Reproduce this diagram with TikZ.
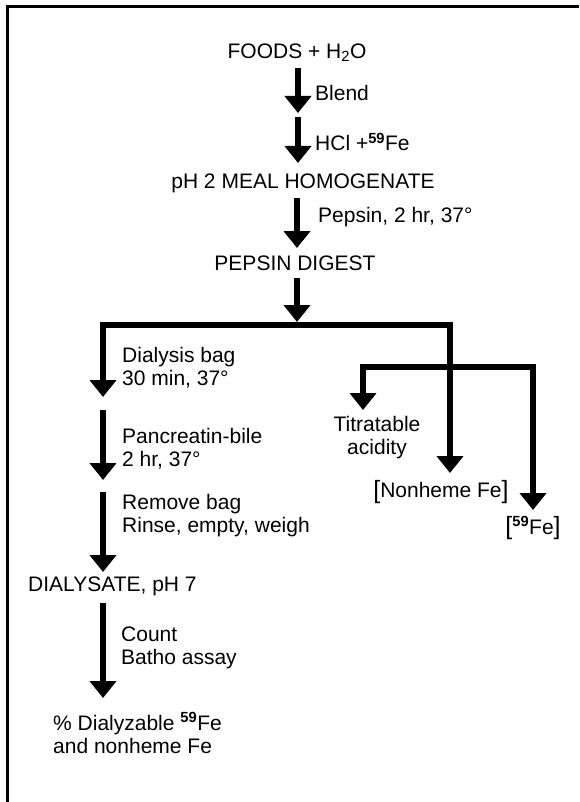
\documentclass[tikz,border=0pt]{standalone}
\usepackage{fontspec}
\setmainfont{Liberation Sans}
\usetikzlibrary{arrows.meta}
\newcommand{\tallbr}[1]{{\fontsize{25}{25}\selectfont\raisebox{-0.6pt}{#1}}}
\begin{document}
\begin{tikzpicture}[x=1pt,y=-1pt,
  txt/.style={inner sep=0pt, font=\fontsize{21}{23}\selectfont},
  lbl/.style={txt, anchor=west, align=left},
  flow/.style={line width=5.5pt, line join=miter, -{Triangle[width=26pt,length=17pt]}},
  frame/.style={line width=3pt}]
\useasboundingbox (0,0) rectangle (579,802);
% frame (only top and left edges visible)
\coordinate (fTR) at (579,7);
\coordinate (fTL) at (7,7);
\coordinate (fBL) at (7,802);
\draw[frame] (fTR) -- (fTL) -- (fBL);

% main column
\node[txt] (foods) at (297,53) {FOODS + H\textsubscript{2}O};
\coordinate (a1s) at (298,68);  \coordinate (a1e) at (298,113);
\node[lbl] (blend) at (315,93) {Blend};
\coordinate (a2s) at (298,117); \coordinate (a2e) at (298,163);
\node[lbl] (hcl) at (315,142) {HCl +\textsuperscript{\textbf{59}}Fe};
\node[txt] (homog) at (303,183) {pH 2 MEAL HOMOGENATE};
\coordinate (a3s) at (297,198); \coordinate (a3e) at (297,248);
\node[lbl] (pepsinlbl) at (318,217) {Pepsin, 2 hr, 37°};
\node[txt] (pepsin) at (295,263) {PEPSIN DIGEST};
\coordinate (a4s) at (297,278); \coordinate (a4e) at (297,322);

\draw[flow] (a1s) -- (a1e);
\draw[flow] (a2s) -- (a2e);
\draw[flow] (a3s) -- (a3e);
\draw[flow] (a4s) -- (a4e);

% first branch
\coordinate (j1) at (297,325);
\coordinate (bLt) at (103,397);
\coordinate (bRt) at (450,473);
\draw[flow] (j1) -| (bLt);
\draw[flow] (j1) -| (bRt);
\node[lbl] (dial) at (122,368) {Dialysis bag\\30 min, 37°};

% left column
\coordinate (a5s) at (103,410); \coordinate (a5e) at (103,480);
\node[lbl] (panc) at (122,449) {Pancreatin-bile\\2 hr, 37°};
\coordinate (a6s) at (103,492); \coordinate (a6e) at (103,572);
\node[lbl] (remove) at (122,516) {Remove bag\\Rinse, empty, weigh};
\node[txt, anchor=west] (dialysate) at (28,586) {DIALYSATE, pH 7};
\coordinate (a7s) at (103,603); \coordinate (a7e) at (103,698);
\node[lbl] (count) at (121,648) {Count\\Batho assay};
\node[lbl] (result) at (53,733) {\% Dialyzable \textsuperscript{\textbf{59}}Fe\\and nonheme Fe};
\draw[flow] (a5s) -- (a5e);
\draw[flow] (a6s) -- (a6e);
\draw[flow] (a7s) -- (a7e);

% second branch
\coordinate (j2) at (450,367);
\coordinate (cLt) at (363,410);
\coordinate (cRt) at (533,510);
\draw[flow] (j2) -| (cLt);
\draw[flow] (j2) -| (cRt);
\node[txt, align=center] (titr) at (377,438) {Titratable\\acidity};
\node[txt] (nonheme) at (441,492) {\tallbr{[}Nonheme Fe\tallbr{]}};
\node[txt] (fe59) at (533,528) {\tallbr{[}\textsuperscript{\textbf{59}}Fe\tallbr{]}};
\end{tikzpicture}
\end{document}
